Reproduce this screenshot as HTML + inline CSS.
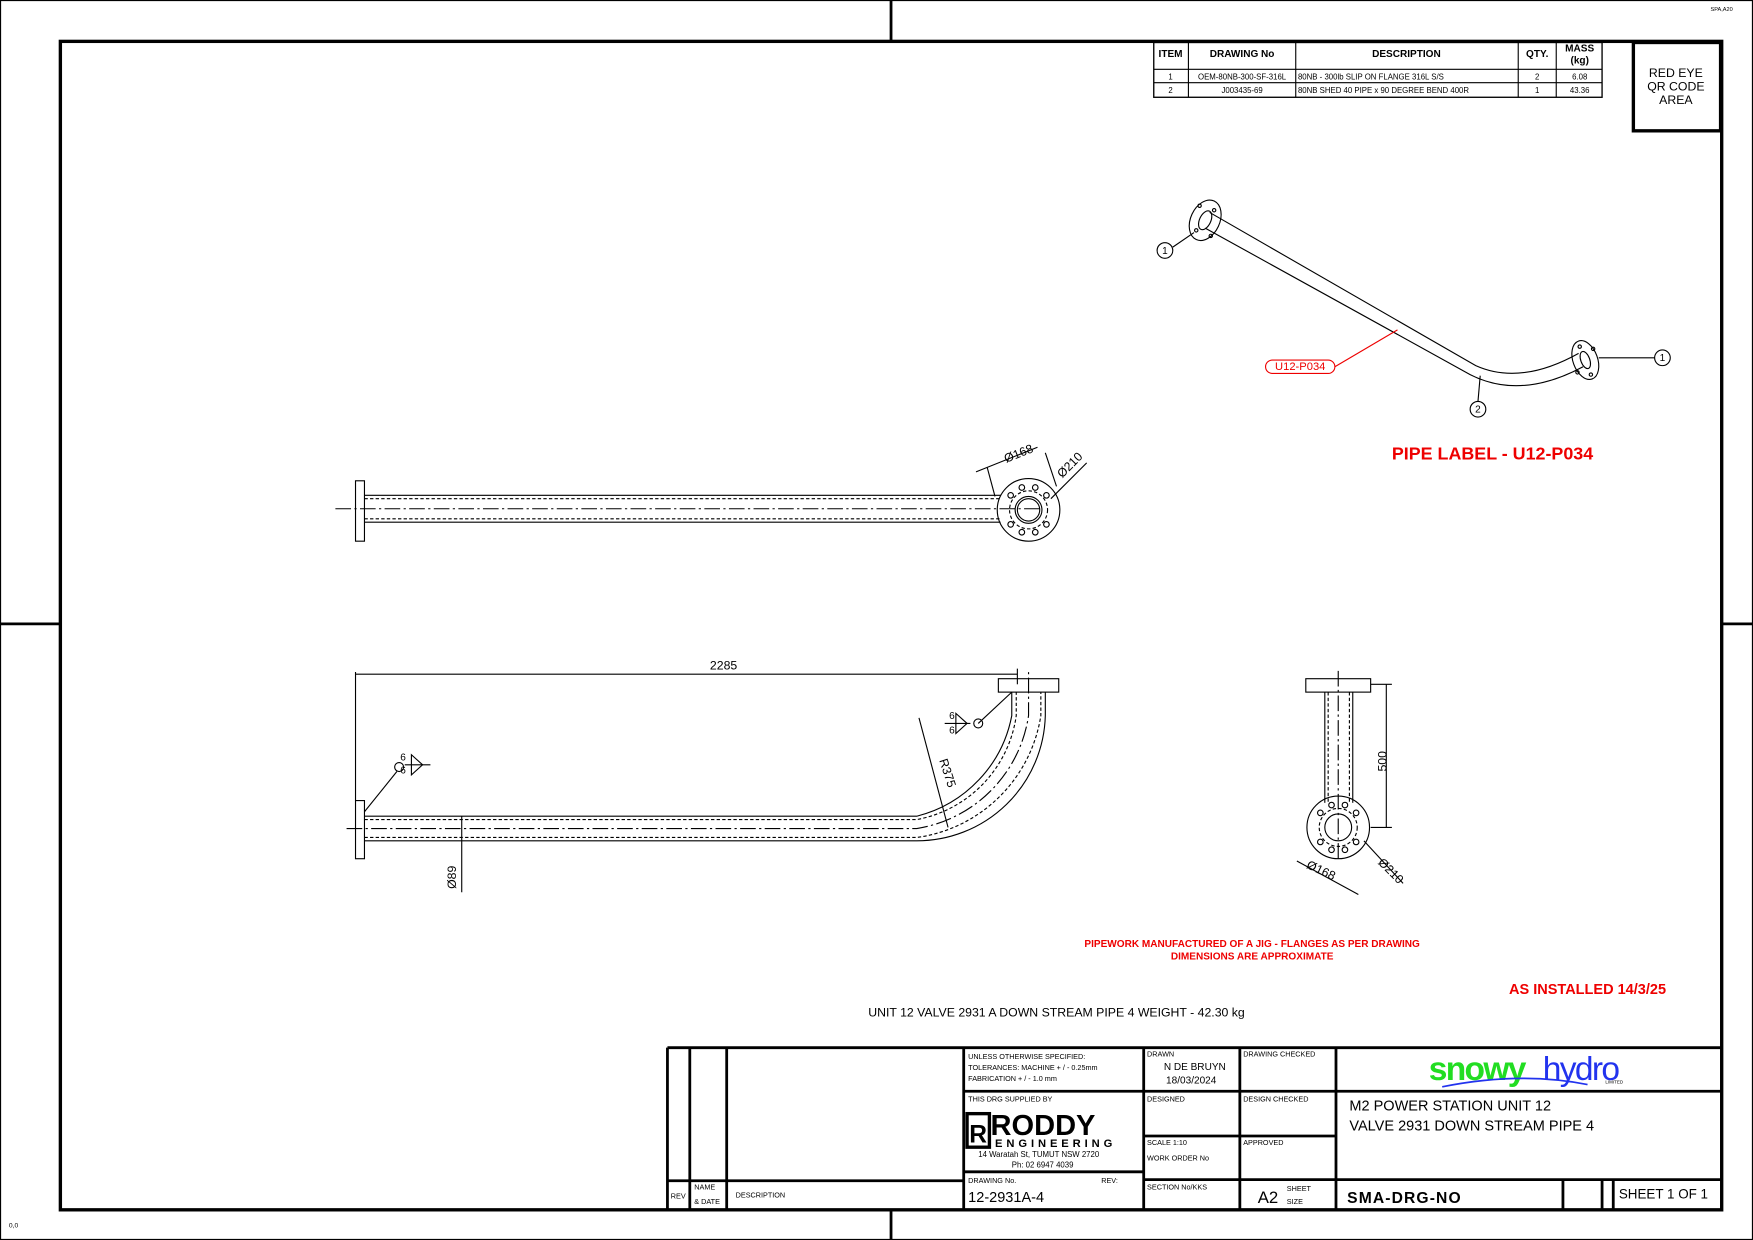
<!DOCTYPE html>
<html><head><meta charset="utf-8"><style>
html,body{margin:0;padding:0;background:#fff}
svg{display:block}
text{font-family:"Liberation Sans",sans-serif}
</style></head><body>
<svg width="1753" height="1240" viewBox="0 0 1568 1109" preserveAspectRatio="none" xmlns="http://www.w3.org/2000/svg">
<g fill="none" stroke="#000">
<rect x="0.5" y="0.5" width="1567" height="1108" stroke-width="1"/>
<line x1="797" y1="0" x2="797" y2="36" stroke-width="2.5"/>
<line x1="797" y1="1082" x2="797" y2="1109" stroke-width="2.5"/>
<line x1="0" y1="558" x2="53" y2="558" stroke-width="2.5"/>
<line x1="1540" y1="558" x2="1568" y2="558" stroke-width="2.5"/>
<rect x="54" y="37" width="1486" height="1045" stroke-width="3"/>
<rect x="1032" y="38" width="401" height="49" stroke-width="1.2"/>
<line x1="1032" y1="62" x2="1433" y2="62"/><line x1="1032" y1="74" x2="1433" y2="74"/>
<line x1="1063" y1="38" x2="1063" y2="87"/><line x1="1159" y1="38" x2="1159" y2="87"/>
<line x1="1358" y1="38" x2="1358" y2="87"/><line x1="1392" y1="38" x2="1392" y2="87"/>
<rect x="1461" y="38" width="78" height="79" stroke-width="3"/>
<g stroke-width="2.5">
<line x1="597" y1="937" x2="1540" y2="937"/>
<line x1="597" y1="937" x2="597" y2="1082"/>
<line x1="617" y1="937" x2="617" y2="1082"/>
<line x1="650" y1="937" x2="650" y2="1082"/>
<line x1="862" y1="937" x2="862" y2="1082"/>
<line x1="1023" y1="937" x2="1023" y2="1082"/>
<line x1="1109" y1="937" x2="1109" y2="1082"/>
<line x1="1195" y1="937" x2="1195" y2="1082"/>
<line x1="597" y1="1056" x2="862" y2="1056"/>
<line x1="862" y1="976" x2="1540" y2="976"/>
<line x1="862" y1="1048" x2="1023" y2="1048"/>
<line x1="1023" y1="1016" x2="1195" y2="1016"/>
<line x1="1023" y1="1055" x2="1540" y2="1055"/>
<line x1="1398" y1="1055" x2="1398" y2="1082"/>
<line x1="1433" y1="1055" x2="1433" y2="1082"/>
<line x1="1443" y1="1055" x2="1443" y2="1082"/>
</g>
</g>
<g font-size="9" font-weight="bold" text-anchor="middle">
<text x="1047" y="51">ITEM</text><text x="1111" y="51">DRAWING No</text><text x="1258" y="51">DESCRIPTION</text><text x="1375" y="51">QTY.</text><text x="1413" y="46">MASS</text><text x="1413" y="57">(kg)</text>
</g>
<g font-size="7" text-anchor="middle">
<text x="1047" y="71">1</text><text x="1111" y="71">OEM-80NB-300-SF-316L</text><text x="1375" y="71">2</text><text x="1413" y="71">6.08</text>
<text x="1047" y="83">2</text><text x="1111" y="83">J003435-69</text><text x="1375" y="83">1</text><text x="1413" y="83">43.36</text>
</g>
<g font-size="7"><text x="1161" y="71">80NB - 300lb SLIP ON FLANGE 316L S/S</text><text x="1161" y="83">80NB SHED 40 PIPE x 90 DEGREE BEND 400R</text></g>
<g font-size="11" text-anchor="middle"><text x="1499" y="69">RED EYE</text><text x="1499" y="81">QR CODE</text><text x="1499" y="93">AREA</text></g>
<text x="1530" y="10" font-size="5">SPA,A20</text>
<text x="8" y="1098" font-size="6">0,0</text>

<g fill="none" stroke="#000" stroke-width="1">
<rect x="318" y="430" width="8" height="54"/>
<line x1="326" y1="443" x2="895" y2="443"/><line x1="326" y1="467" x2="895" y2="467"/>
<line x1="326" y1="446" x2="895" y2="446" stroke-dasharray="3,2"/><line x1="326" y1="464" x2="895" y2="464" stroke-dasharray="3,2"/>
<line x1="300" y1="455" x2="930" y2="455" stroke-dasharray="14,3,2,3"/>
<circle cx="920" cy="456" r="28"/><circle cx="920" cy="456" r="17" stroke-dasharray="3,2"/><circle cx="920" cy="456" r="12"/><circle cx="920" cy="456" r="10"/>
<circle cx="904" cy="443" r="2.5"/><circle cx="936" cy="443" r="2.5"/><circle cx="904" cy="469" r="2.5"/><circle cx="936" cy="469" r="2.5"/>
<circle cx="914" cy="436" r="2.5"/><circle cx="926" cy="436" r="2.5"/><circle cx="914" cy="476" r="2.5"/><circle cx="926" cy="476" r="2.5"/>
<line x1="873" y1="422" x2="928" y2="400"/><line x1="890" y1="444" x2="883" y2="418"/><line x1="945" y1="435" x2="935" y2="405"/>
<line x1="940" y1="446" x2="972" y2="414"/>
</g>
<text x="900" y="414" font-size="11" transform="rotate(-22 900 414)">Ø168</text>
<text x="950" y="428" font-size="11" transform="rotate(-45 950 428)">Ø210</text>

<g fill="none" stroke="#000" stroke-width="1">
<line x1="318" y1="601" x2="318" y2="716"/>
<line x1="318" y1="603" x2="910" y2="603"/>
<line x1="910" y1="598" x2="910" y2="612"/>
<rect x="318" y="716" width="8" height="52"/>
<path d="M326 730 H820 A115 115 0 0 0 905 640 V619"/>
<path d="M326 752 H820 A115 115 0 0 0 935 640 V619"/>
<path d="M326 733 H820 A110 110 0 0 0 909 640 V619" stroke-dasharray="3,2"/>
<path d="M326 749 H820 A130 130 0 0 0 931 640 V619" stroke-dasharray="3,2"/>
<path d="M310 741 H820 A120 120 0 0 0 920 640 V600" stroke-dasharray="14,3,2,3"/>
<rect x="893" y="607" width="54" height="12"/>
<line x1="413" y1="730" x2="413" y2="798"/>
<line x1="822" y1="642" x2="848" y2="740"/>
<line x1="875" y1="647" x2="905" y2="619"/><circle cx="875" cy="647" r="4"/>
<line x1="845" y1="647" x2="868" y2="647"/><path d="M855 638 L865 647 L855 656 Z"/>
<line x1="326" y1="726" x2="355" y2="690"/><circle cx="357" cy="686" r="4"/>
<line x1="362" y1="684" x2="385" y2="684"/><path d="M368 675 L378 684 L368 693 Z"/>
</g>
<g font-size="11"><text x="635" y="599">2285</text>
<text x="408" y="795" transform="rotate(-90 408 795)">Ø89</text>
<text x="840" y="680" transform="rotate(72 840 680)">R375</text>
<text x="849" y="643" font-size="9">6</text><text x="849" y="656" font-size="9">6</text>
<text x="358" y="680" font-size="9">6</text><text x="358" y="692" font-size="9">6</text></g>

<g fill="none" stroke="#000" stroke-width="1">
<rect x="1168" y="607" width="58" height="12"/>
<line x1="1185" y1="619" x2="1185" y2="718"/><line x1="1210" y1="619" x2="1210" y2="718"/>
<line x1="1188" y1="619" x2="1188" y2="718" stroke-dasharray="3,2"/><line x1="1207" y1="619" x2="1207" y2="718" stroke-dasharray="3,2"/>
<line x1="1197" y1="600" x2="1197" y2="770" stroke-dasharray="14,3,2,3"/>
<circle cx="1197" cy="740" r="28"/><circle cx="1197" cy="740" r="17" stroke-dasharray="3,2"/><circle cx="1197" cy="740" r="12"/>
<circle cx="1181" cy="727" r="2.5"/><circle cx="1213" cy="727" r="2.5"/><circle cx="1181" cy="753" r="2.5"/><circle cx="1213" cy="753" r="2.5"/>
<circle cx="1191" cy="720" r="2.5"/><circle cx="1203" cy="720" r="2.5"/><circle cx="1191" cy="760" r="2.5"/><circle cx="1203" cy="760" r="2.5"/>
<line x1="1226" y1="612" x2="1245" y2="612"/><line x1="1226" y1="740" x2="1245" y2="740"/><line x1="1240" y1="612" x2="1240" y2="740"/>
<line x1="1160" y1="770" x2="1215" y2="800"/><line x1="1220" y1="752" x2="1255" y2="790"/>
</g>
<text x="1240" y="690" font-size="11" transform="rotate(-90 1240 690)">500</text>
<text x="1168" y="776" font-size="11" transform="rotate(25 1168 776)">Ø168</text>
<text x="1232" y="772" font-size="11" transform="rotate(45 1232 772)">Ø210</text>

<g fill="none" stroke="#000" stroke-width="1">
<ellipse cx="1078" cy="197" rx="13" ry="19" transform="rotate(25 1078 197)"/>
<ellipse cx="1078" cy="197" rx="5" ry="9" transform="rotate(25 1078 197)"/>
<circle cx="1073" cy="184" r="1.5"/><circle cx="1086" cy="188" r="1.5"/><circle cx="1070" cy="206" r="1.5"/><circle cx="1083" cy="211" r="1.5"/>
<path d="M1082 190 L1320 327 Q1360 345 1412 316"/>
<path d="M1078 204 L1315 335 Q1360 358 1416 328"/>
<ellipse cx="1418" cy="322" rx="11" ry="18" transform="rotate(-20 1418 322)"/>
<ellipse cx="1418" cy="322" rx="4" ry="8" transform="rotate(-20 1418 322)"/>
<circle cx="1413" cy="310" r="1.5"/><circle cx="1425" cy="312" r="1.5"/><circle cx="1411" cy="333" r="1.5"/><circle cx="1423" cy="335" r="1.5"/>
<circle cx="1042" cy="224" r="7"/><line x1="1049" y1="221" x2="1068" y2="208"/>
<circle cx="1487" cy="320" r="7"/><line x1="1430" y1="320" x2="1480" y2="320"/>
<circle cx="1322" cy="366" r="7"/><line x1="1322" y1="359" x2="1324" y2="336"/>
</g>
<g fill="none" stroke="#e00" stroke-width="1">
<rect x="1132" y="322" width="62" height="12" rx="6"/>
<line x1="1194" y1="328" x2="1250" y2="295"/>
</g>
<g font-size="9" text-anchor="middle"><text x="1042" y="227">1</text><text x="1487" y="323">1</text><text x="1322" y="369">2</text></g>
<text x="1163" y="331" font-size="10" fill="#e00" text-anchor="middle">U12-P034</text>

<g fill="#e00" font-weight="bold" text-anchor="middle">
<text x="1335" y="411" font-size="16">PIPE LABEL - U12-P034</text>
<text x="1120" y="847" font-size="9">PIPEWORK MANUFACTURED OF A JIG - FLANGES AS PER DRAWING</text>
<text x="1120" y="858" font-size="9">DIMENSIONS ARE APPROXIMATE</text>
<text x="1420" y="889" font-size="13">AS INSTALLED 14/3/25</text>
</g>
<text x="945" y="909" font-size="11" text-anchor="middle">UNIT 12 VALVE 2931 A DOWN STREAM PIPE 4 WEIGHT -    42.30 kg</text>

<g font-size="6.5">
<text x="600" y="1072">REV</text><text x="621" y="1064">NAME</text><text x="621" y="1077">&amp; DATE</text><text x="658" y="1071">DESCRIPTION</text>
<text x="866" y="947">UNLESS OTHERWISE SPECIFIED:</text>
<text x="866" y="957">TOLERANCES: MACHINE + / - 0.25mm</text>
<text x="866" y="967">FABRICATION + / - 1.0 mm</text>
<text x="866" y="985">THIS DRG SUPPLIED BY</text>
<text x="866" y="1058">DRAWING No.</text><text x="985" y="1058">REV:</text>
<text x="1026" y="945">DRAWN</text><text x="1112" y="945">DRAWING CHECKED</text>
<text x="1026" y="985">DESIGNED</text><text x="1112" y="985">DESIGN CHECKED</text>
<text x="1026" y="1024">SCALE  1:10</text><text x="1112" y="1024">APPROVED</text>
<text x="1026" y="1038">WORK ORDER No</text>
<text x="1026" y="1064">SECTION No/KKS</text>
<text x="1151" y="1065">SHEET</text><text x="1151" y="1077">SIZE</text>
</g>
<g font-size="9"><text x="1041" y="957">N DE BRUYN</text><text x="1043" y="969">18/03/2024</text>
<text x="875" y="1035" font-size="7">14 Waratah St, TUMUT NSW 2720</text><text x="905" y="1044" font-size="7">Ph: 02 6947 4039</text></g>
<text x="866" y="1075" font-size="13">12-2931A-4</text>
<text x="1125" y="1076" font-size="15">A2</text>
<text x="1205" y="1076" font-size="14" font-weight="bold" letter-spacing="1">SMA-DRG-NO</text>
<text x="1448" y="1072" font-size="12">SHEET 1 OF 1</text>
<text x="1207" y="993" font-size="13">M2 POWER STATION UNIT 12</text>
<text x="1207" y="1011" font-size="13">VALVE 2931 DOWN STREAM PIPE  4</text>
<rect x="865" y="996" width="20" height="30" fill="none" stroke="#000" stroke-width="3"/>
<text x="867" y="1022" font-size="22" font-weight="bold">R</text>
<text x="886" y="1015" font-size="26" font-weight="bold">RODDY</text>
<text x="890" y="1026" font-size="10" font-weight="bold" letter-spacing="3.5">ENGINEERING</text>
<text x="1278" y="966" font-size="30" font-weight="bold" fill="#22dd22" letter-spacing="-1.5">snowy</text>
<text x="1380" y="966" font-size="30" fill="#2233ee" letter-spacing="-1.5">hydro</text>
<path d="M1290 972 Q1360 958 1420 970" fill="none" stroke="#2233ee" stroke-width="1.5"/>
<text x="1436" y="969" font-size="4">LIMITED</text>
</svg>
</body></html>
